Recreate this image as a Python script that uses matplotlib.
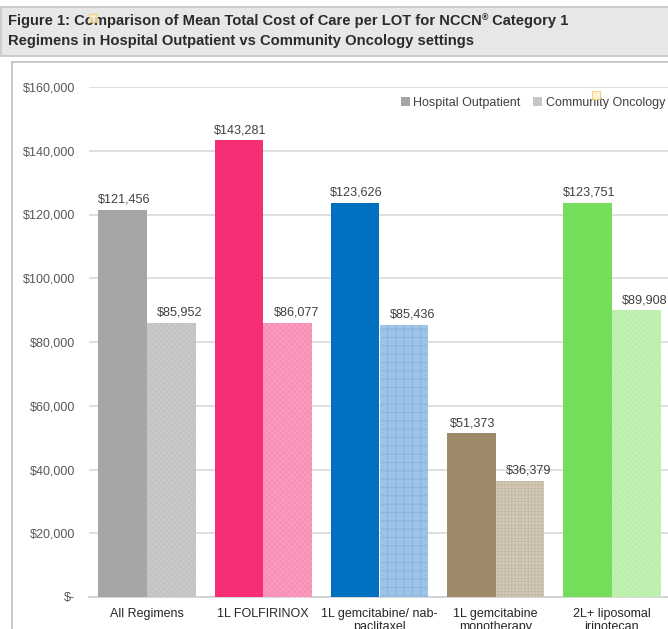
import matplotlib
matplotlib.use("Agg")
import matplotlib.pyplot as plt
from matplotlib.patches import Rectangle
from matplotlib.text import Annotation
from matplotlib.ticker import FuncFormatter
import numpy as np

plt.rcParams['font.family'] = ['Liberation Sans', 'DejaVu Sans']
plt.rcParams['hatch.linewidth'] = 0.5

categories = ["All Regimens", "1L FOLFIRINOX", "1L gemcitabine/ nab-\npaclitaxel",
              "1L gemcitabine\nmonotherapy", "2L+ liposomal\nirinotecan"]
hospital_outpatient = [121456, 143281, 123626, 51373, 123751]
community_oncology = [85952, 86077, 85436, 36379, 89908]
series_names = ["Hospital Outpatient", "Community Oncology"]
y_ticks = [0, 20000, 40000, 60000, 80000, 100000, 120000, 140000, 160000]

ho_colors = ["#a6a6a6", "#f62e76", "#0070c0", "#9e8a68", "#74dd5a"]
co_colors = ["#c2c2c2", "#f78fb6", "#9dc3e6", "#d3c8b6", "#b9efa9"]
co_hatch_colors = ["#cdcdcd", "#f9a2c3", "#80b2df", "#c4b8a4", "#c8f2ba"]
co_hatches = ["xxxxxx", "xxxxxx", "++", "+++++", "xxxxxx"]

W, H = 668, 629
fig = plt.figure(figsize=(W / 100, H / 100), dpi=100)

def fx(px):
    return px / W

def fy(py):
    return 1 - py / H

# title box
fig.add_artist(Rectangle((fx(1), fy(56)), fx(668), 49 / H, transform=fig.transFigure,
                         facecolor="#e7e7e7", edgecolor="#c6c6c6", linewidth=1.2, zorder=0))
# chart frame
fig.add_artist(Rectangle((fx(12.5), fy(640)), fx(700), 578 / H, transform=fig.transFigure,
                         facecolor="white", edgecolor="#bdbdbd", linewidth=1.2, zorder=0))

tfs = 10.6
t1 = fig.text(fx(8), fy(21), "Figure 1: Comparison of Mean Total Cost of Care per LOT for NCCN",
              fontsize=tfs, fontweight="bold", color="#2b2b2b", va="center", ha="left")
treg = Annotation("®", xy=(1, 0.78), xycoords=t1, fontsize=6.2, fontweight="bold",
                  color="#2b2b2b", va="center", ha="left")
fig.add_artist(treg)
t3 = Annotation(" Category 1", xy=(1, 0), xycoords=(treg, t1), fontsize=tfs, fontweight="bold",
                color="#2b2b2b", va="bottom", ha="left")
fig.add_artist(t3)
fig.text(fx(8), fy(41), "Regimens in Hospital Outpatient vs Community Oncology settings",
         fontsize=tfs, fontweight="bold", color="#2b2b2b", va="center", ha="left")

ax = fig.add_axes([fx(89), fy(597), fx(670) - fx(89), fy(87) - fy(597)])
ax.set_zorder(2)
ax.patch.set_alpha(0)

x = np.arange(len(categories))
bw = 0.418
off = 0.2105
for i in range(len(categories)):
    ax.bar(x[i] - off, hospital_outpatient[i], bw, color=ho_colors[i], linewidth=0, zorder=3,
           label=series_names[0] if i == 0 else None)
    ax.bar(x[i] + off, community_oncology[i], bw, facecolor=co_colors[i],
           edgecolor=co_hatch_colors[i], hatch=co_hatches[i], linewidth=0, zorder=3,
           label=series_names[1] if i == 0 else None)
    ax.annotate(f"${hospital_outpatient[i]:,}", (x[i] - off, hospital_outpatient[i]),
                xytext=(1, 3), textcoords="offset points", ha="center", va="bottom",
                fontsize=9.1, color="#404040")
    ax.annotate(f"${community_oncology[i]:,}", (x[i] + off, community_oncology[i]),
                xytext=(6, 3), textcoords="offset points", ha="center", va="bottom",
                fontsize=9.1, color="#404040")

ax.set_xlim(-0.5, 4.5)
ax.set_ylim(0, 160000)
ax.set_yticks(y_ticks)
ax.yaxis.set_major_formatter(FuncFormatter(lambda v, p: "$-" if v == 0 else f"${v:,.0f}"))
ax.grid(axis="y", color="#d9d9d9", linewidth=1.2, zorder=0)
ax.set_axisbelow(True)
for s in ["top", "right", "left"]:
    ax.spines[s].set_visible(False)
ax.spines["bottom"].set_color("#d0d0d0")
ax.spines["bottom"].set_linewidth(1.2)
ax.tick_params(axis="y", length=0, pad=10, labelsize=9, labelcolor="#595959")
ax.tick_params(axis="x", length=0, pad=8, labelsize=9, labelcolor="#262626")
ax.set_xticks(x)
ax.set_xticklabels(categories, linespacing=1.15)

leg = ax.legend(loc="upper right", bbox_to_anchor=(1.0, 0.99), ncol=2, frameon=False,
                fontsize=9, handlelength=0.7, handleheight=0.7, handletextpad=0.3,
                columnspacing=1.0, labelcolor="#404040", borderaxespad=0)

# small comment markers seen in the screenshot
for (px, py) in [(93, 18), (596, 95)]:
    fig.add_artist(Rectangle((fx(px - 4), fy(py + 4)), fx(8), 8 / H, transform=fig.transFigure,
                             facecolor="#fff2cc", edgecolor="#f4c870", linewidth=0.8, alpha=0.8, zorder=5))

fig.savefig("out.png", dpi=100)
